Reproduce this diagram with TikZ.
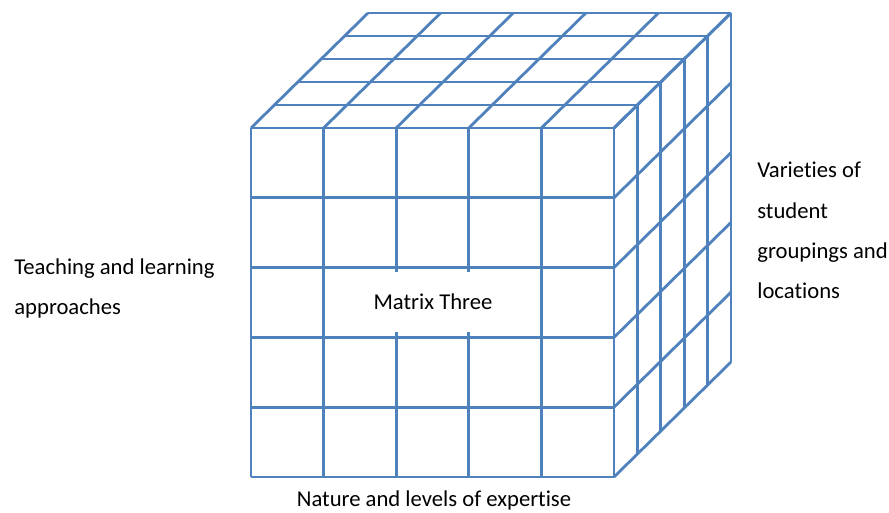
\documentclass[tikz,border=0pt]{standalone}
\usepackage{fontspec}
\setmainfont[Ligatures=NoCommon]{Carlito}
\definecolor{gridblue}{RGB}{79,129,189}

\begin{document}
\begin{tikzpicture}[x=0.02cm, y=-0.02cm,
  edge/.style={draw=gridblue, line width=1.6pt},
  axislabel/.style={font=\fontsize{12.9}{22.8}\selectfont, align=left, anchor=north west, inner sep=0pt},
  cubelabel/.style={fill=white, minimum width=4.1cm, minimum height=1.2cm, font=\fontsize{12.9}{15}\selectfont}]
\useasboundingbox (0,0) rectangle (889,513);
\foreach \i in {0,...,5}{
  \draw[edge] (251+72.6*\i,128) -- (251+72.6*\i,477);
  \draw[edge] (251,128+69.8*\i) -- (614,128+69.8*\i);
  \draw[edge] (251+72.6*\i,128) -- (368+72.6*\i,13);
  \draw[edge] (614,128+69.8*\i) -- (731,13+69.8*\i);
}
\foreach \k in {1,...,5}{
  \draw[edge] (251+23.4*\k,128-23*\k) -- (614+23.4*\k,128-23*\k);
  \draw[edge] (614+23.4*\k,128-23*\k) -- (614+23.4*\k,477-23*\k);
}
\node[cubelabel] (centre) at (433,302) {Matrix Three};
\node[axislabel] (left) at (14,258) {Teaching and learning\\approaches};
\node[axislabel] (right) at (757,162) {Varieties of\\student\\groupings and\\locations};
\node[font=\fontsize{12.9}{15}\selectfont] (bottom) at (434,500) {Nature and levels of expertise};
\end{tikzpicture}
\end{document}
